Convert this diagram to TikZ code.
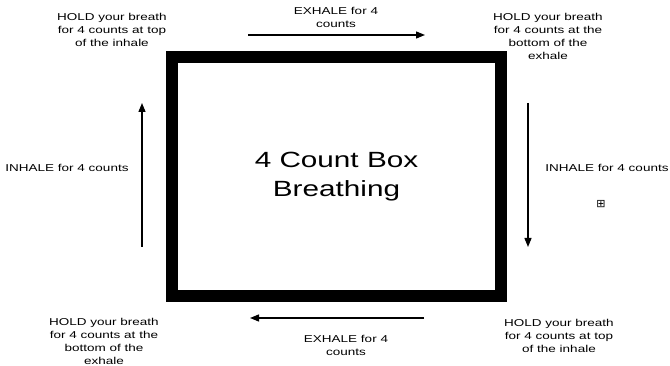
\documentclass[tikz,border=0pt]{standalone}
\usepackage{fontspec}
\setmainfont[FakeStretch=1.35]{Liberation Sans}
\newfontfamily\symfont{DejaVu Sans}
\usetikzlibrary{arrows.meta,positioning}

\begin{document}
\begin{tikzpicture}[
    x=1pt, y=-1pt,
    step label/.style={align=center, inner sep=0pt, font=\fontsize{10}{13}\selectfont},
    square/.style={draw, line width=12pt, minimum width=329pt, minimum height=239pt, inner sep=0pt, align=center, font=\fontsize{22}{29}\selectfont},
    arr/.style={-{Triangle[length=9pt, width=7pt]}, line width=1.3pt},
]
    \useasboundingbox (0,0) rectangle (670,366);

    \node[square] (box) at (336.5, 176.5) {4 Count Box\\Breathing};

    \node[step label] (holdtop) at (112, 30) {HOLD your breath\\for 4 counts at top\\of the inhale};
    \node[step label] (exhaletop) at (336, 17) {EXHALE for 4\\counts};
    \node[step label] (holdbottomtop) at (548, 36) {HOLD your breath\\for 4 counts at the\\bottom of the\\exhale};
    \node[step label] (inhaleleft) at (67, 168) {INHALE for 4 counts};
    \node[step label] (inhaleright) at (607, 168) {INHALE for 4 counts};
    \node[step label] (holdbottom) at (104, 341.5) {HOLD your breath\\for 4 counts at the\\bottom of the\\exhale};
    \node[step label] (exhalebottom) at (346, 345.5) {EXHALE for 4\\counts};
    \node[step label] (holdtopbottom) at (559, 335.5) {HOLD your breath\\for 4 counts at top\\of the inhale};
    \node[inner sep=0pt, font=\symfont\fontsize{11}{11}\selectfont] (plus) at (601, 204) {⊞};

    % arrow ends
    \coordinate (topA) at (248, 35);
    \coordinate (topB) at (425, 35);
    \coordinate (rightA) at (528, 103);
    \coordinate (rightB) at (528, 247);
    \coordinate (bottomA) at (424, 318);
    \coordinate (bottomB) at (250, 318);
    \coordinate (leftA) at (142, 247);
    \coordinate (leftB) at (142, 103);

    \draw[arr] (topA) -- (topB);
    \draw[arr] (rightA) -- (rightB);
    \draw[arr] (bottomA) -- (bottomB);
    \draw[arr] (leftA) -- (leftB);
\end{tikzpicture}
\end{document}
